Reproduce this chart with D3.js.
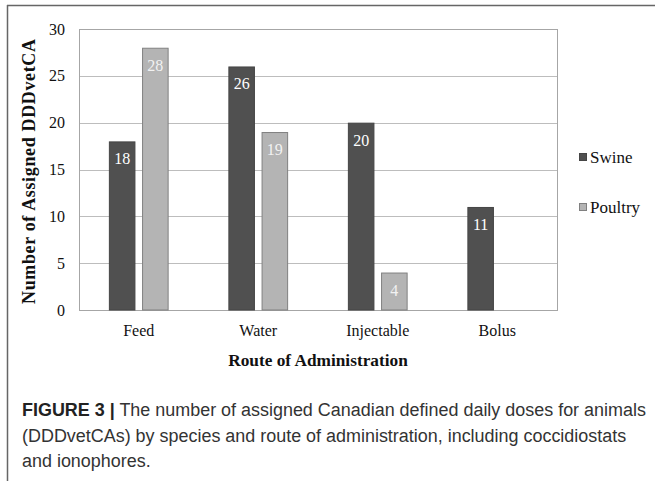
<!DOCTYPE html>
<html><head><meta charset="utf-8">
<script src="https://cdn.jsdelivr.net/npm/d3@7"></script>
<style>body{margin:0;background:#fff}svg{display:block}</style>
</head><body>
<svg id="c" width="655" height="481"></svg>
<script>
const categories = ["Feed", "Water", "Injectable", "Bolus"];
const seriesNames = ["Swine", "Poultry"];
const swine = [18, 26, 20, 11];
const poultry = [28, 19, 4, 0];
const yTicks = [0, 5, 10, 15, 20, 25, 30];
const yTitle = "Number of Assigned DDDvetCA";
const xTitle = "Route of Administration";
const captionBold = "FIGURE 3 |";
const captionLines = [
  " The number of assigned Canadian defined daily doses for animals",
  "(DDDvetCAs) by species and route of administration, including coccidiostats",
  "and ionophores."
];

const svg = d3.select("#c");
const serif = "Liberation Serif, serif";
const sans = "Liberation Sans, Arial, sans-serif";
const colors = {Swine: "#505050", Poultry: "#b4b4b4"};
const strokes = {Swine: "#454545", Poultry: "#808080"};

// frame
svg.append("line").attr("x1", 7).attr("x2", 655).attr("y1", 5.5).attr("y2", 5.5).attr("stroke", "#666").attr("stroke-width", 1.5);
svg.append("line").attr("x1", 7.5).attr("x2", 7.5).attr("y1", 5).attr("y2", 481).attr("stroke", "#666").attr("stroke-width", 1.5);

const L = 79, R = 557, T = 29, B = 310;
const x = d3.scaleBand().domain(categories).range([L, R]).paddingInner(0).paddingOuter(0);
const xs = d3.scaleBand().domain(seriesNames).range([0, x.bandwidth()]).paddingInner(0.2).paddingOuter(0.9);
const y = d3.scaleLinear().domain([0, 30]).range([B, T]);

// gridlines
svg.append("g").selectAll("line").data(yTicks).join("line")
  .attr("x1", L).attr("x2", R).attr("y1", d => Math.round(y(d)) + 0.5).attr("y2", d => Math.round(y(d)) + 0.5)
  .attr("stroke", "#bdbdbd").attr("stroke-width", 1);
// plot border
svg.append("rect").attr("x", L + 0.5).attr("y", Math.round(y(30)) + 0.5).attr("width", R - L).attr("height", Math.round(y(0)) - Math.round(y(30)))
  .attr("fill", "none").attr("stroke", "#a6a6a6");

// y axis labels
const yAxis = d3.axisLeft(y).tickValues(yTicks).tickSize(0).tickPadding(14);
const ga = svg.append("g").attr("transform", `translate(${L},0)`).call(yAxis);
ga.attr("font-family", serif).attr("font-size", 16);
ga.select(".domain").remove();
ga.selectAll("text").attr("fill", "#111");

// x axis labels
const xAxis = d3.axisBottom(x).tickSize(0).tickPadding(15);
const gx = svg.append("g").attr("transform", `translate(0,${B})`).call(xAxis);
gx.attr("font-family", serif).attr("font-size", 16);
gx.select(".domain").remove();
gx.selectAll("text").attr("fill", "#111");

// bars
const data = categories.map((c, i) => ({c, vals: [{s: "Swine", v: swine[i]}, {s: "Poultry", v: poultry[i]}]}));
const grp = svg.append("g").selectAll("g").data(data).join("g").attr("transform", d => `translate(${x(d.c)},0)`);
const bar = grp.selectAll("g").data(d => d.vals.filter(e => e.v > 0)).join("g");
bar.append("rect")
  .attr("x", d => xs(d.s) + 0.5).attr("width", xs.bandwidth() - 1)
  .attr("y", d => y(d.v) + 0.5).attr("height", d => y(0) - y(d.v) - 0.5)
  .attr("fill", d => colors[d.s]).attr("stroke", d => strokes[d.s]).attr("stroke-width", 1);
bar.append("text")
  .attr("x", d => xs(d.s) + xs.bandwidth() / 2).attr("y", d => y(d.v) + 23)
  .attr("text-anchor", "middle").attr("font-family", serif).attr("font-size", 16)
  .attr("fill", d => d.s === "Swine" ? "#fff" : "#f2f2f2").text(d => d.v);

// legend
const leg = svg.append("g").selectAll("g").data(seriesNames).join("g")
  .attr("transform", (d, i) => `translate(579,${163 + i * 50})`);
leg.append("rect").attr("x", 0.5).attr("y", -9.5).attr("width", 7).attr("height", 7)
  .attr("fill", d => colors[d]).attr("stroke", d => strokes[d]);
leg.append("text").attr("x", 11).attr("y", 0).attr("font-family", serif).attr("font-size", 17).attr("fill", "#111").text(d => d);

// titles
svg.append("text").attr("transform", `translate(35,${(T + B) / 2 + 2}) rotate(-90)`).attr("text-anchor", "middle")
  .attr("font-family", serif).attr("font-weight", "bold").attr("font-size", 18)
  .attr("textLength", 265).attr("lengthAdjust", "spacing").attr("fill", "#111").text(yTitle);
svg.append("text").attr("x", (L + R) / 2).attr("y", 366).attr("text-anchor", "middle")
  .attr("font-family", serif).attr("font-weight", "bold").attr("font-size", 17.3).attr("fill", "#111").text(xTitle);

// caption
const cap = svg.append("g");
const baselines = [416, 442, 467];
const lines = captionLines.map((t, i) => {
  const tx = cap.append("text").attr("x", 22).attr("y", baselines[i]).attr("font-family", sans).attr("font-size", 18).attr("fill", "#333");
  if (i === 0) tx.append("tspan").attr("font-weight", "bold").attr("fill", "#222").text(captionBold);
  tx.append("tspan").text(t);
  return tx;
});
const w0 = lines[0].node().getComputedTextLength();
const fs = 18 * 624 / w0;
lines.forEach(l => l.attr("font-size", fs));
</script>
</body></html>
